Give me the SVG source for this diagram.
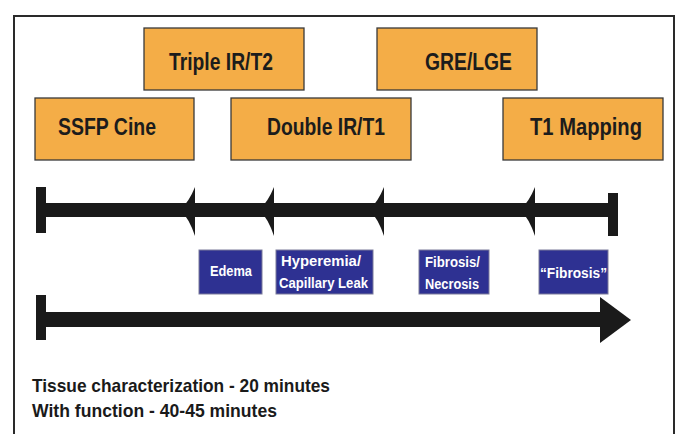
<svg xmlns="http://www.w3.org/2000/svg" width="678" height="434" viewBox="0 0 678 434">
<style>
.frame{fill:none;stroke:#2a2a2a;stroke-width:2}
.ob{fill:#F4AD47;stroke:#3a3a3a;stroke-width:1.3}
.bb{fill:#2E3192;stroke:#7a7a9a;stroke-width:1}
.ot{font-family:"Liberation Sans",Arial,sans-serif;font-weight:bold;font-size:23px;fill:#1c1c1c}
.bt{font-family:"Liberation Sans",Arial,sans-serif;font-weight:bold;font-size:14px;fill:#ffffff}
.ft{font-family:"Liberation Sans",Arial,sans-serif;font-weight:bold;font-size:19px;fill:#1a1a1a}
.bar{fill:#1a1a1a}
</style>
<rect class="frame" x="14" y="16" width="660" height="430"/>
<g id="triple-ir-t2"><rect class="ob" x="144" y="28" width="160" height="62"/><text class="ot" x="169" y="70" textLength="104" lengthAdjust="spacingAndGlyphs">Triple IR/T2</text></g>
<g id="gre-lge"><rect class="ob" x="377" y="28" width="160" height="62"/><text class="ot" x="425" y="70" textLength="87" lengthAdjust="spacingAndGlyphs">GRE/LGE</text></g>
<g id="ssfp-cine"><rect class="ob" x="35" y="98" width="159" height="62"/><text class="ot" x="58" y="135" textLength="98" lengthAdjust="spacingAndGlyphs">SSFP Cine</text></g>
<g id="double-ir-t1"><rect class="ob" x="231" y="98" width="180" height="62"/><text class="ot" x="267" y="135" textLength="118" lengthAdjust="spacingAndGlyphs">Double IR/T1</text></g>
<g id="t1-mapping"><rect class="ob" x="503" y="98" width="160" height="62"/><text class="ot" x="530" y="135" textLength="112" lengthAdjust="spacingAndGlyphs">T1 Mapping</text></g>
<g id="connectors">
<g id="top-timeline">
<rect class="bar" x="36" y="187" width="10" height="46"/>
<rect class="bar" x="40" y="203" width="575" height="14"/>
<rect class="bar" x="608" y="193" width="10" height="43"/>
<path class="bar" d="M180,210 Q189,202 195,187 L195,236 Q189,218 180,210 Z"/>
<path class="bar" d="M259,210 Q268,202 274,187 L274,236 Q268,218 259,210 Z"/>
<path class="bar" d="M369,210 Q378,202 384,187 L384,236 Q378,218 369,210 Z"/>
<path class="bar" d="M520,210 Q529,202 535,187 L535,236 Q529,218 520,210 Z"/>
</g>
<g id="bottom-timeline">
<rect class="bar" x="36" y="295" width="10" height="45"/>
<rect class="bar" x="40" y="312" width="562" height="15"/>
<path class="bar" d="M600,297 L631,320 L600,343 Z"/>
</g>
</g>
<g id="edema"><rect class="bb" x="199" y="250" width="63" height="44"/><text class="bt" x="210" y="276" textLength="42" lengthAdjust="spacingAndGlyphs">Edema</text></g>
<g id="hyperemia"><rect class="bb" x="276" y="250" width="97" height="44"/><text class="bt" x="281" y="266" textLength="80" lengthAdjust="spacingAndGlyphs">Hyperemia/</text><text class="bt" x="279" y="288" textLength="89" lengthAdjust="spacingAndGlyphs">Capillary Leak</text></g>
<g id="fibrosis-necrosis"><rect class="bb" x="419" y="250" width="70" height="44"/><text class="bt" x="425" y="267" textLength="55" lengthAdjust="spacingAndGlyphs">Fibrosis/</text><text class="bt" x="425" y="289" textLength="54" lengthAdjust="spacingAndGlyphs">Necrosis</text></g>
<g id="fibrosis-quoted"><rect class="bb" x="539" y="250" width="69" height="44"/><text class="bt" x="540" y="278" textLength="67" lengthAdjust="spacingAndGlyphs">“Fibrosis”</text></g>
<text class="ft" x="32" y="392" textLength="298" lengthAdjust="spacingAndGlyphs">Tissue characterization - 20 minutes</text>
<text class="ft" x="32" y="417" textLength="245" lengthAdjust="spacingAndGlyphs">With function - 40-45 minutes</text>
</svg>
